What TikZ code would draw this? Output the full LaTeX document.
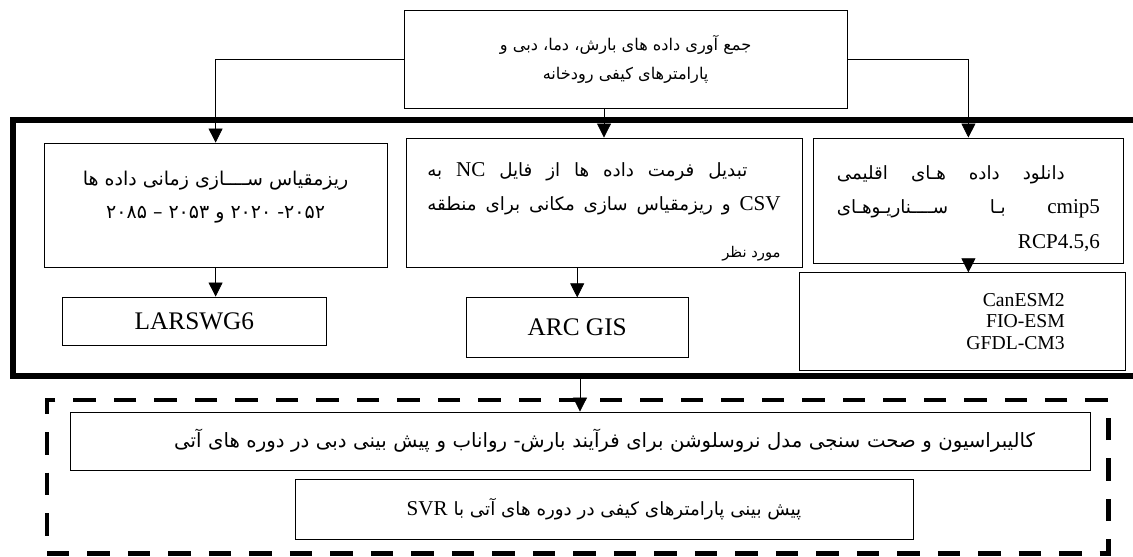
\documentclass[tikz,border=0pt]{standalone}
\usepackage{fontspec}
\setmainfont{Liberation Serif}
\newfontfamily\fafont[Script=Arabic]{DejaVu Sans}
\TeXXeTstate=1
\usetikzlibrary{arrows.meta,positioning,calc}
\newcommand{\fatxt}[1]{{\fafont\beginR #1\endR}}
\newcommand{\lat}[1]{\beginL{\rmfamily\fontsize{15}{18}\selectfont #1}\endL}
\tikzset{
  box/.style={draw=black,line width=0.6pt,inner sep=2pt,align=center},
  arr/.style={-{Triangle[length=10pt,width=10pt]},line width=0.6pt,draw=black},
  farsi/.style={font=\fafont\fontsize{11.5}{20.5}\selectfont},
  latin/.style={font=\rmfamily\fontsize{18}{20}\selectfont},
}
\begin{document}
\begin{tikzpicture}
  \useasboundingbox (0,0) rectangle (28.325,13.925);
  % frames
  \node[draw,line width=4pt,inner sep=0pt,minimum width=28.43cm,minimum height=6.4cm] (frame) at (14.54,7.73) {};
  \node[draw,line width=3.5pt,dash pattern=on 16pt off 12.8pt,inner sep=0pt,minimum width=26.53cm,minimum height=3.83cm] (dframe) at (14.44,2.01) {};
  % source
  \node[box,farsi,minimum width=11.08cm,minimum height=2.45cm] (src) at (15.64,12.45)
    {\fatxt{جمع آوری داده های بارش، دما، دبی و}\\\fatxt{پارامترهای کیفی رودخانه}};
  % three branches
  \node[box,farsi,minimum width=8.58cm,minimum height=3.1cm,font=\fafont\fontsize{13.5}{23.4}\selectfont] (tscale) at (5.39,8.8)
    {\fatxt{ریزمقیاس ســــازی زمانی داده ها}\\\fatxt{۲۰۵۲\mbox{-} ۲۰۲۰ و ۲۰۵۳ – ۲۰۸۵}\\[-9pt]};
  \node[box,farsi,align=right,minimum width=9.9cm,minimum height=3.23cm,font=\fafont\fontsize{13}{24}\selectfont] (conv) at (15.1,8.86)
    {\makebox[8.83cm][l]{\rule{0pt}{23pt}\makebox[8.0cm][s]{\fatxt{تبدیل فرمت داده ها از فایل \lat{NC} به}}}\\
     \makebox[8.83cm][s]{\fatxt{\lat{CSV} و ریزمقیاس سازی مکانی برای منطقه}}\\[9pt]
     {\fontsize{10.5}{12}\selectfont\fatxt{مورد نظر}}};
  \node[box,farsi,align=right,minimum width=7.73cm,minimum height=3.13cm,font=\fafont\fontsize{13}{24}\selectfont] (dl) at (24.21,8.91)
    {\makebox[6.58cm][l]{\rule{0pt}{22pt}\makebox[5.7cm][s]{\fatxt{دانلود داده هـای اقلیمی}}}\\
     \makebox[6.58cm][s]{\fatxt{\lat{cmip5} بـا ســــناریـوهـای}}\\[1pt]
     \lat{RCP4.5,6}};
  % tools
  \node[box,latin,minimum width=6.58cm,minimum height=1.2cm] (lars) at (4.86,5.9) {LARSWG6};
  \node[box,latin,minimum width=5.55cm,minimum height=1.48cm] (arc) at (14.43,5.74) {ARC GIS};
  \node[box,font=\rmfamily\fontsize{14}{15.2}\selectfont,align=right,text width=5.12cm,minimum width=8.13cm,minimum height=2.43cm] (gcm) at (24.06,5.89)
    {CanESM2\\FIO-ESM\\GFDL-CM3};
  % modelling
  \node[box,farsi,align=right,text width=22.75cm,minimum width=25.5cm,minimum height=1.45cm,font=\fafont\fontsize{14}{16}\selectfont] (calib) at (14.5,2.9)
    {\fatxt{کالیبراسیون و صحت سنجی مدل نروسلوشن برای فرآیند بارش- رواناب و پیش بینی دبی در دوره های آتی}};
  \node[box,farsi,minimum width=15.45cm,minimum height=1.5cm,font=\fafont\fontsize{13}{16}\selectfont] (svr) at (15.1,1.2)
    {\fatxt{پیش بینی پارامترهای کیفی در دوره های آتی با \lat{SVR}}};
  % arrows
  \draw[arr] (src.west) -| (tscale.north);
  \draw[arr] (src.east) -| (dl.north);
  \draw[arr] (src.south -| conv.north) -- (conv.north);
  \draw[arr] (tscale.south) -- (tscale.south |- lars.north);
  \draw[arr] (conv.south -| arc.north) -- (arc.north);
  \draw[arr] (dl.south) -- (dl.south |- gcm.north);
  \draw[arr] (frame.south -| calib.north) -- (calib.north);
\end{tikzpicture}
\end{document}
